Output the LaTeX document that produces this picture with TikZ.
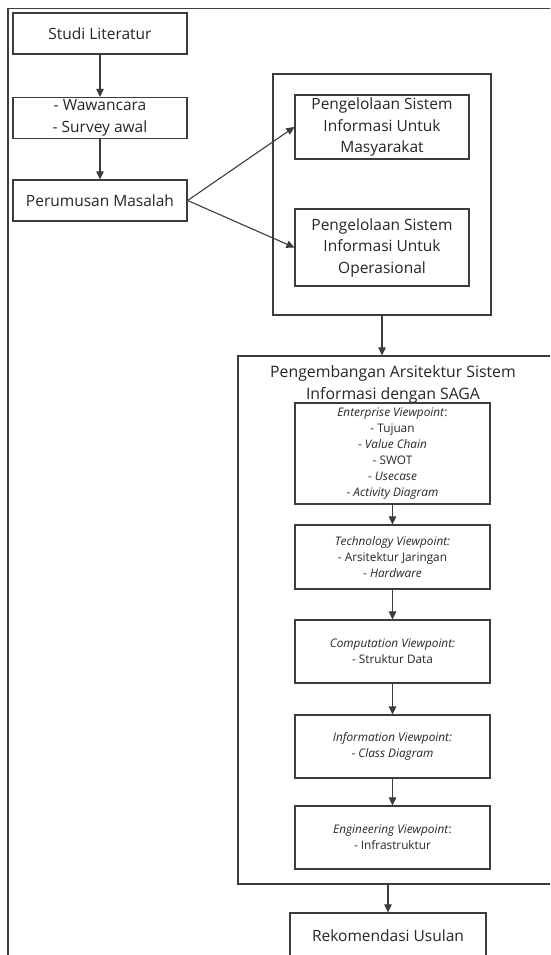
\documentclass[tikz,border=0pt]{standalone}
\usepackage{fontspec}
\setmainfont{Open Sans}
\usetikzlibrary{arrows.meta}
\definecolor{ink}{HTML}{262626}
\definecolor{edge}{HTML}{3C3C3C}
\begin{document}
\begin{tikzpicture}[x=1pt,y=-1pt,
  box/.style={draw=edge,line width=1.2pt,rectangle,inner sep=0pt,align=center,
    text=ink,font=\fontsize{15.5}{21.5}\selectfont},
  vbox/.style={box,minimum width=195pt,font=\fontsize{11.8}{16}\selectfont},
  link/.style={draw=edge,line width=1.1pt,-{Triangle[length=8pt,width=7.5pt]}},
]
\useasboundingbox (0,0) rectangle (550,955);
\clip (0,0) rectangle (550,955);
\fill[white] (0,0) rectangle (550,955);

% outer frame, running past the page edges
\draw[edge,line width=1.4pt] (8,8.5) rectangle (700,1100);

% left column
\node[box,minimum width=174pt,minimum height=41pt] (studi) at (100,33.5) {Studi Literatur};
\node[box,minimum width=174pt,minimum height=41pt] (wawan) at (100,118) {- Wawancara\\- Survey awal};
\node[box,minimum width=174pt,minimum height=41pt] (rumus) at (100,200.5) {Perumusan Masalah};

% group of the two management areas
\node[box,minimum width=218pt,minimum height=241pt] (grup) at (382,194.5) {};
\node[box,minimum width=174pt,minimum height=64pt] (masy) at (382,127)
  {Pengelolaan Sistem\\Informasi Untuk\\Masyarakat};
\node[box,minimum width=174pt,minimum height=77pt] (oper) at (382,247.5)
  {Pengelolaan Sistem\\Informasi Untuk\\Operasional};

% SAGA container, running past the right edge
\node[box,minimum width=362pt,minimum height=528pt] (saga) at (419,620) {};
\node[text=ink,align=center,font=\fontsize{15.8}{22}\selectfont] (sagat) at (393,384)
  {Pengembangan Arsitektur Sistem\\Informasi dengan SAGA};

% viewpoints
\node[vbox,minimum height=101pt] (ent) at (392.5,453.5)
  {\textit{Enterprise Viewpoint}:\\- Tujuan\\- \textit{Value Chain}\\- SWOT\\- \textit{Usecase}\\- \textit{Activity Diagram}};
\node[vbox,minimum height=64pt] (tech) at (392.5,557)
  {\textit{Technology Viewpoint:}\\- Arsitektur Jaringan\\- \textit{Hardware}};
\node[vbox,minimum height=63pt] (comp) at (392.5,651.5)
  {\textit{Computation Viewpoint:}\\- Struktur Data};
\node[vbox,minimum height=63pt] (info) at (392.5,746.5)
  {\textit{Information Viewpoint:}\\- \textit{Class Diagram}};
\node[vbox,minimum height=63pt] (eng) at (392.5,837.5)
  {\textit{Engineering Viewpoint}:\\- Infrastruktur};

% final recommendation, running past the bottom edge
\node[box,minimum width=196pt,minimum height=46pt] (rekom) at (388,936) {Rekomendasi Usulan};

% connectors
\draw[link] (studi) -- (wawan);
\draw[link] (wawan) -- (rumus);
\draw[link] (rumus.east) -- (masy.west);
\draw[link] (rumus.east) -- (oper.west);
\draw[link] (grup.south) -- (grup.south |- saga.north);
\draw[link] (ent) -- (tech);
\draw[link] (tech) -- (comp);
\draw[link] (comp) -- (info);
\draw[link] (info) -- (eng);
\draw[link] (saga.south -| rekom.north) -- (rekom.north);
\end{tikzpicture}
\end{document}
